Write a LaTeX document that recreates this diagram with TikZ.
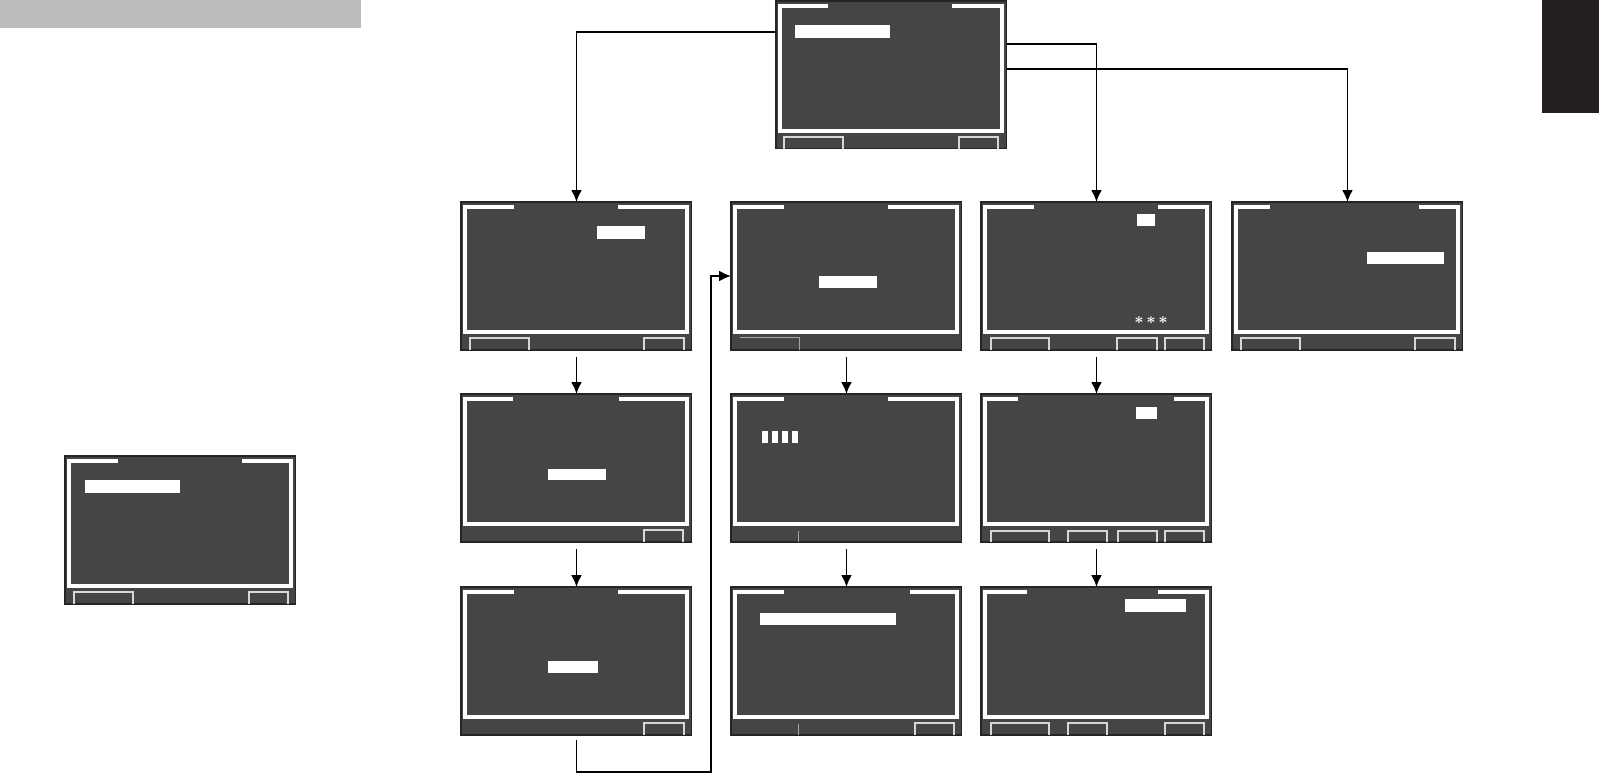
\documentclass[tikz,border=0pt]{standalone}
\usepackage{xcolor}
\usepackage{tikz}
\usetikzlibrary{arrows, arrows.meta, positioning}

\definecolor{scrfill}{RGB}{70,68,69}
\definecolor{scredge}{RGB}{38,36,37}
\definecolor{tabdark}{RGB}{35,31,32}
\definecolor{barfill}{RGB}{188,188,188}
\definecolor{keyline}{RGB}{215,215,215}

% soft key outline at the foot of a screen: left x, right x, top y
\newcommand{\softkey}[3]{\draw[softkey] (#1,147.5) |- (#2,#3) -- (#2,147.5);}
% inner white frame with a gap in its top edge
\newcommand{\scrframe}[2]{\draw[frame] (#1,5) -| (4,130) -| (226,5) -- (#2,5);}

\begin{document}
\begin{tikzpicture}[x=0.02cm, y=-0.02cm,
  screen/.style={draw=scredge, line width=0.6pt, fill=scrfill, anchor=north west,
    minimum width=4.62cm, minimum height=2.96cm, inner sep=0pt, outer sep=0pt},
  frame/.style={white, line width=1.9pt},
  hilite/.style={fill=white},
  softkey/.style={keyline, line width=0.9pt},
  faint/.style={gray!70, line width=0.5pt},
  link/.style={-{Latex[length=2.4mm, width=2.2mm]}, line width=1.1pt, black}]

  \useasboundingbox (0,0) rectangle (1599,774);
  \fill[barfill] (0,0) rectangle (361,28);
  \fill[tabdark] (1542,0) rectangle (1599,113);

  \node (top)  [screen] at (776,1) {};
  \node (side) [screen] at (65,456) {};

  \node (a1) [screen] at (461,202) {};
  \node (b1) [screen] at (731,202) {};
  \node (c1) [screen] at (981,202) {};
  \node (d1) [screen] at (1232,202) {};

  \node (a2) [screen] at (461,394) {};
  \node (b2) [screen] at (731,394) {};
  \node (c2) [screen] at (981,394) {};

  \node (a3) [screen] at (461,587) {};
  \node (b3) [screen] at (731,587) {};
  \node (c3) [screen] at (981,587) {};

  % screen contents
  \begin{scope}[shift={(top.north west)}]
    \scrframe{52}{176}
    \fill[hilite] (19,24) rectangle (114,37);
    \softkey{8}{67}{136} \softkey{183}{222}{136}
  \end{scope}
  \begin{scope}[shift={(side.north west)}]
    \scrframe{53}{177}
    \fill[hilite] (20,24) rectangle (115,37);
    \softkey{9}{68}{136} \softkey{184}{223}{136}
  \end{scope}
  \begin{scope}[shift={(a1.north west)}]
    \scrframe{53}{157}
    \fill[hilite] (136,24) rectangle (184,37);
    \softkey{9}{68}{136} \softkey{183}{223}{136}
  \end{scope}
  \begin{scope}[shift={(b1.north west)}]
    \scrframe{53}{157}
    \fill[hilite] (88,74) rectangle (146,86);
    \draw[faint] (9,135) -- (68,135) -- (68,147.5);
  \end{scope}
  \begin{scope}[shift={(c1.north west)}]
    \scrframe{53}{177}
    \fill[hilite] (156,12) rectangle (174,24);
    \node (stars) [text=white, font=\small\bfseries, inner sep=0pt] at (170,121) {*\,*\,*};
    \softkey{10}{68}{136} \softkey{136}{176}{136} \softkey{184}{223}{136}
  \end{scope}
  \begin{scope}[shift={(d1.north west)}]
    \scrframe{38}{187}
    \fill[hilite] (135,50) rectangle (212,62);
    \softkey{9}{68}{136} \softkey{183}{223}{136}
  \end{scope}
  \begin{scope}[shift={(a2.north west)}]
    \scrframe{52}{158}
    \fill[hilite] (87,75) rectangle (145,86);
    \softkey{183}{222}{136}
  \end{scope}
  \begin{scope}[shift={(b2.north west)}]
    \scrframe{53}{157}
    \foreach \sx in {31,41,51,61}
      \fill[hilite] (\sx,37) rectangle ++(6,12);
    \draw[faint] (67,137) -- (67,147.5);
  \end{scope}
  \begin{scope}[shift={(c2.north west)}]
    \scrframe{37}{193}
    \fill[hilite] (155,13) rectangle (176,25);
    \softkey{10}{68}{137} \softkey{87}{126}{137} \softkey{137}{176}{137} \softkey{184}{223}{137}
  \end{scope}
  \begin{scope}[shift={(a3.north west)}]
    \scrframe{53}{157}
    \fill[hilite] (87,74) rectangle (137,86);
    \softkey{183}{223}{136}
  \end{scope}
  \begin{scope}[shift={(b3.north west)}]
    \scrframe{53}{179}
    \fill[hilite] (29,26) rectangle (165,38);
    \draw[faint] (67,137) -- (67,147.5);
    \softkey{184}{223}{136}
  \end{scope}
  \begin{scope}[shift={(c3.north west)}]
    \scrframe{46}{177}
    \fill[hilite] (144,12) rectangle (205,25);
    \softkey{10}{68}{136} \softkey{87}{126}{136} \softkey{184}{223}{136}
  \end{scope}

  % connectors
  \coordinate (loopc) at (711,772);
  \draw [link] ([yshift=-0.62cm]top.north west) -| (a1.north);
  \draw [link] ([yshift=-0.86cm]top.north east) -| (c1.north);
  \draw [link] ([yshift=-1.36cm]top.north east) -| (d1.north);

  \draw [link] ([yshift=-0.14cm]a1.south) -- (a2.north);
  \draw [link] ([yshift=-0.14cm]b1.south) -- (b2.north);
  \draw [link] ([yshift=-0.14cm]c1.south) -- (c2.north);
  \draw [link] ([yshift=-0.14cm]a2.south) -- (a3.north);
  \draw [link] ([yshift=-0.14cm]b2.south) -- (b3.north);
  \draw [link] ([yshift=-0.14cm]c2.south) -- (c3.north);

  \draw [link] ([yshift=-0.1cm]a3.south) |- (loopc) |- (b1.west);
\end{tikzpicture}
\end{document}
